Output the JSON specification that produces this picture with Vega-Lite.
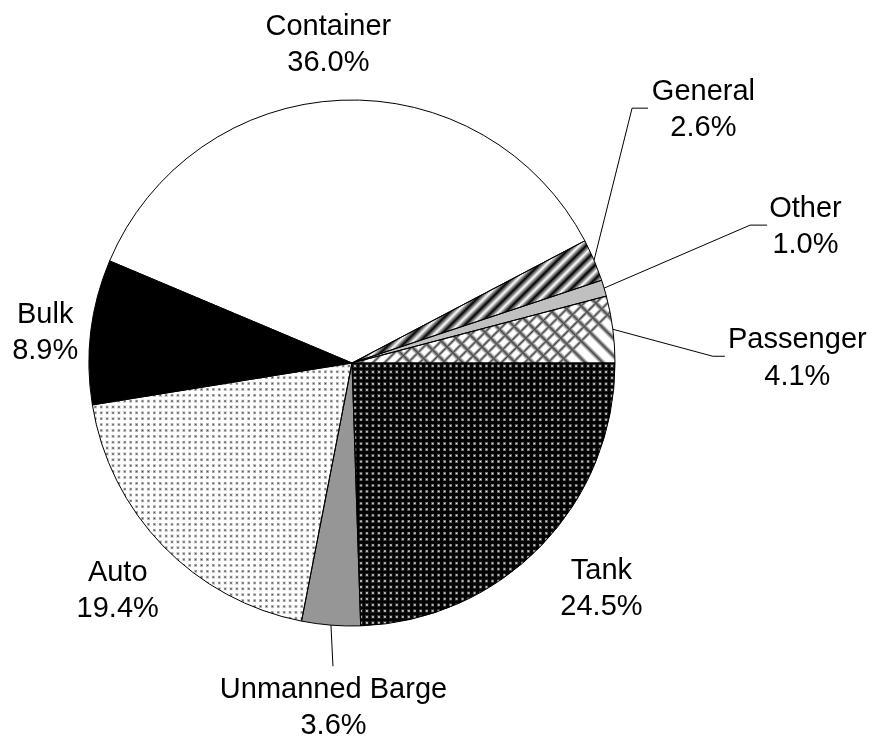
{
  "$schema": "https://vega.github.io/schema/vega-lite/v6.json",
  "width": 704,
  "height": 726,
  "autosize": {"type": "none"},
  "padding": {"left": 0, "top": 0, "right": 170, "bottom": 13},
  "background": "#ffffff",
  "config": {"view": {"stroke": null}, "text": {"font": "Liberation Sans", "fontSize": 29, "color": "#000000"}},
  "data": {"values": [
    {"type": "Auto", "share": 0.194},
    {"type": "Bulk", "share": 0.089},
    {"type": "Container", "share": 0.360},
    {"type": "General", "share": 0.026},
    {"type": "Other", "share": 0.010},
    {"type": "Passenger", "share": 0.041},
    {"type": "Tank", "share": 0.245},
    {"type": "Unmanned Barge", "share": 0.036}
  ]},
  "layer": [
    {
      "encoding": {
        "theta": {"field": "share", "type": "quantitative", "stack": true, "scale": {"range": [3.33463, 9.61782]}},
        "order": {"field": "type", "type": "ordinal", "sort": "ascending"},
        "detail": {"field": "type"}
      },
      "layer": [
        {
          "mark": {"type": "arc", "outerRadius": 263, "strokeWidth": 0},
          "encoding": {
            "fill": {
              "condition": [
                {"test": "datum.type==='Bulk'", "value": "#000000"},
                {"test": "datum.type==='Unmanned Barge'", "value": "#969696"},
                {"test": "datum.type==='Other'", "value": "#c0c0c0"},
                {"test": "datum.type==='Tank'", "value": {"gradient": "linear", "x1": 0, "y1": 0, "x2": 1, "y2": 0, "stops": [{"offset":0,"color":"#000"},{"offset":0.0045,"color":"#000"},{"offset":0.0114,"color":"#fff"},{"offset":0.0182,"color":"#000"},{"offset":0.0273,"color":"#000"},{"offset":0.0341,"color":"#fff"},{"offset":0.0409,"color":"#000"},{"offset":0.05,"color":"#000"},{"offset":0.0568,"color":"#fff"},{"offset":0.0636,"color":"#000"},{"offset":0.0727,"color":"#000"},{"offset":0.0795,"color":"#fff"},{"offset":0.0864,"color":"#000"},{"offset":0.0955,"color":"#000"},{"offset":0.1023,"color":"#fff"},{"offset":0.1091,"color":"#000"},{"offset":0.1182,"color":"#000"},{"offset":0.125,"color":"#fff"},{"offset":0.1318,"color":"#000"},{"offset":0.1409,"color":"#000"},{"offset":0.1477,"color":"#fff"},{"offset":0.1545,"color":"#000"},{"offset":0.1636,"color":"#000"},{"offset":0.1705,"color":"#fff"},{"offset":0.1773,"color":"#000"},{"offset":0.1864,"color":"#000"},{"offset":0.1932,"color":"#fff"},{"offset":0.2,"color":"#000"},{"offset":0.2091,"color":"#000"},{"offset":0.2159,"color":"#fff"},{"offset":0.2227,"color":"#000"},{"offset":0.2318,"color":"#000"},{"offset":0.2386,"color":"#fff"},{"offset":0.2455,"color":"#000"},{"offset":0.2545,"color":"#000"},{"offset":0.2614,"color":"#fff"},{"offset":0.2682,"color":"#000"},{"offset":0.2773,"color":"#000"},{"offset":0.2841,"color":"#fff"},{"offset":0.2909,"color":"#000"},{"offset":0.3,"color":"#000"},{"offset":0.3068,"color":"#fff"},{"offset":0.3136,"color":"#000"},{"offset":0.3227,"color":"#000"},{"offset":0.3295,"color":"#fff"},{"offset":0.3364,"color":"#000"},{"offset":0.3455,"color":"#000"},{"offset":0.3523,"color":"#fff"},{"offset":0.3591,"color":"#000"},{"offset":0.3682,"color":"#000"},{"offset":0.375,"color":"#fff"},{"offset":0.3818,"color":"#000"},{"offset":0.3909,"color":"#000"},{"offset":0.3977,"color":"#fff"},{"offset":0.4045,"color":"#000"},{"offset":0.4136,"color":"#000"},{"offset":0.4205,"color":"#fff"},{"offset":0.4273,"color":"#000"},{"offset":0.4364,"color":"#000"},{"offset":0.4432,"color":"#fff"},{"offset":0.45,"color":"#000"},{"offset":0.4591,"color":"#000"},{"offset":0.4659,"color":"#fff"},{"offset":0.4727,"color":"#000"},{"offset":0.4818,"color":"#000"},{"offset":0.4886,"color":"#fff"},{"offset":0.4955,"color":"#000"},{"offset":0.5045,"color":"#000"},{"offset":0.5114,"color":"#fff"},{"offset":0.5182,"color":"#000"},{"offset":0.5273,"color":"#000"},{"offset":0.5341,"color":"#fff"},{"offset":0.5409,"color":"#000"},{"offset":0.55,"color":"#000"},{"offset":0.5568,"color":"#fff"},{"offset":0.5636,"color":"#000"},{"offset":0.5727,"color":"#000"},{"offset":0.5795,"color":"#fff"},{"offset":0.5864,"color":"#000"},{"offset":0.5955,"color":"#000"},{"offset":0.6023,"color":"#fff"},{"offset":0.6091,"color":"#000"},{"offset":0.6182,"color":"#000"},{"offset":0.625,"color":"#fff"},{"offset":0.6318,"color":"#000"},{"offset":0.6409,"color":"#000"},{"offset":0.6477,"color":"#fff"},{"offset":0.6545,"color":"#000"},{"offset":0.6636,"color":"#000"},{"offset":0.6705,"color":"#fff"},{"offset":0.6773,"color":"#000"},{"offset":0.6864,"color":"#000"},{"offset":0.6932,"color":"#fff"},{"offset":0.7,"color":"#000"},{"offset":0.7091,"color":"#000"},{"offset":0.7159,"color":"#fff"},{"offset":0.7227,"color":"#000"},{"offset":0.7318,"color":"#000"},{"offset":0.7386,"color":"#fff"},{"offset":0.7455,"color":"#000"},{"offset":0.7545,"color":"#000"},{"offset":0.7614,"color":"#fff"},{"offset":0.7682,"color":"#000"},{"offset":0.7773,"color":"#000"},{"offset":0.7841,"color":"#fff"},{"offset":0.7909,"color":"#000"},{"offset":0.8,"color":"#000"},{"offset":0.8068,"color":"#fff"},{"offset":0.8136,"color":"#000"},{"offset":0.8227,"color":"#000"},{"offset":0.8295,"color":"#fff"},{"offset":0.8364,"color":"#000"},{"offset":0.8455,"color":"#000"},{"offset":0.8523,"color":"#fff"},{"offset":0.8591,"color":"#000"},{"offset":0.8682,"color":"#000"},{"offset":0.875,"color":"#fff"},{"offset":0.8818,"color":"#000"},{"offset":0.8909,"color":"#000"},{"offset":0.8977,"color":"#fff"},{"offset":0.9045,"color":"#000"},{"offset":0.9136,"color":"#000"},{"offset":0.9205,"color":"#fff"},{"offset":0.9273,"color":"#000"},{"offset":0.9364,"color":"#000"},{"offset":0.9432,"color":"#fff"},{"offset":0.95,"color":"#000"},{"offset":0.9591,"color":"#000"},{"offset":0.9659,"color":"#fff"},{"offset":0.9727,"color":"#000"},{"offset":0.9818,"color":"#000"},{"offset":0.9886,"color":"#fff"},{"offset":0.9955,"color":"#000"},{"offset":1,"color":"#000"}]}},
                {"test": "datum.type==='Auto'", "value": {"gradient": "linear", "x1": 0, "y1": 0, "x2": 1, "y2": 0, "stops": [{"offset":0,"color":"#fff"},{"offset":0.0045,"color":"#fff"},{"offset":0.0114,"color":"#444"},{"offset":0.0182,"color":"#fff"},{"offset":0.0273,"color":"#fff"},{"offset":0.0341,"color":"#444"},{"offset":0.0409,"color":"#fff"},{"offset":0.05,"color":"#fff"},{"offset":0.0568,"color":"#444"},{"offset":0.0636,"color":"#fff"},{"offset":0.0727,"color":"#fff"},{"offset":0.0795,"color":"#444"},{"offset":0.0864,"color":"#fff"},{"offset":0.0955,"color":"#fff"},{"offset":0.1023,"color":"#444"},{"offset":0.1091,"color":"#fff"},{"offset":0.1182,"color":"#fff"},{"offset":0.125,"color":"#444"},{"offset":0.1318,"color":"#fff"},{"offset":0.1409,"color":"#fff"},{"offset":0.1477,"color":"#444"},{"offset":0.1545,"color":"#fff"},{"offset":0.1636,"color":"#fff"},{"offset":0.1705,"color":"#444"},{"offset":0.1773,"color":"#fff"},{"offset":0.1864,"color":"#fff"},{"offset":0.1932,"color":"#444"},{"offset":0.2,"color":"#fff"},{"offset":0.2091,"color":"#fff"},{"offset":0.2159,"color":"#444"},{"offset":0.2227,"color":"#fff"},{"offset":0.2318,"color":"#fff"},{"offset":0.2386,"color":"#444"},{"offset":0.2455,"color":"#fff"},{"offset":0.2545,"color":"#fff"},{"offset":0.2614,"color":"#444"},{"offset":0.2682,"color":"#fff"},{"offset":0.2773,"color":"#fff"},{"offset":0.2841,"color":"#444"},{"offset":0.2909,"color":"#fff"},{"offset":0.3,"color":"#fff"},{"offset":0.3068,"color":"#444"},{"offset":0.3136,"color":"#fff"},{"offset":0.3227,"color":"#fff"},{"offset":0.3295,"color":"#444"},{"offset":0.3364,"color":"#fff"},{"offset":0.3455,"color":"#fff"},{"offset":0.3523,"color":"#444"},{"offset":0.3591,"color":"#fff"},{"offset":0.3682,"color":"#fff"},{"offset":0.375,"color":"#444"},{"offset":0.3818,"color":"#fff"},{"offset":0.3909,"color":"#fff"},{"offset":0.3977,"color":"#444"},{"offset":0.4045,"color":"#fff"},{"offset":0.4136,"color":"#fff"},{"offset":0.4205,"color":"#444"},{"offset":0.4273,"color":"#fff"},{"offset":0.4364,"color":"#fff"},{"offset":0.4432,"color":"#444"},{"offset":0.45,"color":"#fff"},{"offset":0.4591,"color":"#fff"},{"offset":0.4659,"color":"#444"},{"offset":0.4727,"color":"#fff"},{"offset":0.4818,"color":"#fff"},{"offset":0.4886,"color":"#444"},{"offset":0.4955,"color":"#fff"},{"offset":0.5045,"color":"#fff"},{"offset":0.5114,"color":"#444"},{"offset":0.5182,"color":"#fff"},{"offset":0.5273,"color":"#fff"},{"offset":0.5341,"color":"#444"},{"offset":0.5409,"color":"#fff"},{"offset":0.55,"color":"#fff"},{"offset":0.5568,"color":"#444"},{"offset":0.5636,"color":"#fff"},{"offset":0.5727,"color":"#fff"},{"offset":0.5795,"color":"#444"},{"offset":0.5864,"color":"#fff"},{"offset":0.5955,"color":"#fff"},{"offset":0.6023,"color":"#444"},{"offset":0.6091,"color":"#fff"},{"offset":0.6182,"color":"#fff"},{"offset":0.625,"color":"#444"},{"offset":0.6318,"color":"#fff"},{"offset":0.6409,"color":"#fff"},{"offset":0.6477,"color":"#444"},{"offset":0.6545,"color":"#fff"},{"offset":0.6636,"color":"#fff"},{"offset":0.6705,"color":"#444"},{"offset":0.6773,"color":"#fff"},{"offset":0.6864,"color":"#fff"},{"offset":0.6932,"color":"#444"},{"offset":0.7,"color":"#fff"},{"offset":0.7091,"color":"#fff"},{"offset":0.7159,"color":"#444"},{"offset":0.7227,"color":"#fff"},{"offset":0.7318,"color":"#fff"},{"offset":0.7386,"color":"#444"},{"offset":0.7455,"color":"#fff"},{"offset":0.7545,"color":"#fff"},{"offset":0.7614,"color":"#444"},{"offset":0.7682,"color":"#fff"},{"offset":0.7773,"color":"#fff"},{"offset":0.7841,"color":"#444"},{"offset":0.7909,"color":"#fff"},{"offset":0.8,"color":"#fff"},{"offset":0.8068,"color":"#444"},{"offset":0.8136,"color":"#fff"},{"offset":0.8227,"color":"#fff"},{"offset":0.8295,"color":"#444"},{"offset":0.8364,"color":"#fff"},{"offset":0.8455,"color":"#fff"},{"offset":0.8523,"color":"#444"},{"offset":0.8591,"color":"#fff"},{"offset":0.8682,"color":"#fff"},{"offset":0.875,"color":"#444"},{"offset":0.8818,"color":"#fff"},{"offset":0.8909,"color":"#fff"},{"offset":0.8977,"color":"#444"},{"offset":0.9045,"color":"#fff"},{"offset":0.9136,"color":"#fff"},{"offset":0.9205,"color":"#444"},{"offset":0.9273,"color":"#fff"},{"offset":0.9364,"color":"#fff"},{"offset":0.9432,"color":"#444"},{"offset":0.95,"color":"#fff"},{"offset":0.9591,"color":"#fff"},{"offset":0.9659,"color":"#444"},{"offset":0.9727,"color":"#fff"},{"offset":0.9818,"color":"#fff"},{"offset":0.9886,"color":"#444"},{"offset":0.9955,"color":"#fff"},{"offset":1,"color":"#fff"}]}},
                {"test": "datum.type==='General'", "value": {"gradient": "linear", "x1": 0, "y1": 0, "x2": 1, "y2": 0.4896, "stops": [{"offset":0,"color":"#000"},{"offset":0.0227,"color":"#fff"},{"offset":0.0455,"color":"#000"},{"offset":0.0682,"color":"#fff"},{"offset":0.0909,"color":"#000"},{"offset":0.1136,"color":"#fff"},{"offset":0.1364,"color":"#000"},{"offset":0.1591,"color":"#fff"},{"offset":0.1818,"color":"#000"},{"offset":0.2045,"color":"#fff"},{"offset":0.2273,"color":"#000"},{"offset":0.25,"color":"#fff"},{"offset":0.2727,"color":"#000"},{"offset":0.2955,"color":"#fff"},{"offset":0.3182,"color":"#000"},{"offset":0.3409,"color":"#fff"},{"offset":0.3636,"color":"#000"},{"offset":0.3864,"color":"#fff"},{"offset":0.4091,"color":"#000"},{"offset":0.4318,"color":"#fff"},{"offset":0.4545,"color":"#000"},{"offset":0.4773,"color":"#fff"},{"offset":0.5,"color":"#000"},{"offset":0.5227,"color":"#fff"},{"offset":0.5455,"color":"#000"},{"offset":0.5682,"color":"#fff"},{"offset":0.5909,"color":"#000"},{"offset":0.6136,"color":"#fff"},{"offset":0.6364,"color":"#000"},{"offset":0.6591,"color":"#fff"},{"offset":0.6818,"color":"#000"},{"offset":0.7045,"color":"#fff"},{"offset":0.7273,"color":"#000"},{"offset":0.75,"color":"#fff"},{"offset":0.7727,"color":"#000"},{"offset":0.7955,"color":"#fff"},{"offset":0.8182,"color":"#000"},{"offset":0.8409,"color":"#fff"},{"offset":0.8636,"color":"#000"},{"offset":0.8864,"color":"#fff"},{"offset":0.9091,"color":"#000"},{"offset":0.9318,"color":"#fff"},{"offset":0.9545,"color":"#000"},{"offset":0.9773,"color":"#fff"},{"offset":1,"color":"#000"}]}},
                {"test": "datum.type==='Passenger'", "value": {"gradient": "linear", "x1": 0, "y1": 0, "x2": 1, "y2": 0.2544, "stops": [{"offset":0,"color":"#fff"},{"offset":0.0104,"color":"#fff"},{"offset":0.0208,"color":"#444"},{"offset":0.0313,"color":"#fff"},{"offset":0.0521,"color":"#fff"},{"offset":0.0625,"color":"#444"},{"offset":0.0729,"color":"#fff"},{"offset":0.0938,"color":"#fff"},{"offset":0.1042,"color":"#444"},{"offset":0.1146,"color":"#fff"},{"offset":0.1354,"color":"#fff"},{"offset":0.1458,"color":"#444"},{"offset":0.1563,"color":"#fff"},{"offset":0.1771,"color":"#fff"},{"offset":0.1875,"color":"#444"},{"offset":0.1979,"color":"#fff"},{"offset":0.2188,"color":"#fff"},{"offset":0.2292,"color":"#444"},{"offset":0.2396,"color":"#fff"},{"offset":0.2604,"color":"#fff"},{"offset":0.2708,"color":"#444"},{"offset":0.2813,"color":"#fff"},{"offset":0.3021,"color":"#fff"},{"offset":0.3125,"color":"#444"},{"offset":0.3229,"color":"#fff"},{"offset":0.3438,"color":"#fff"},{"offset":0.3542,"color":"#444"},{"offset":0.3646,"color":"#fff"},{"offset":0.3854,"color":"#fff"},{"offset":0.3958,"color":"#444"},{"offset":0.4063,"color":"#fff"},{"offset":0.4271,"color":"#fff"},{"offset":0.4375,"color":"#444"},{"offset":0.4479,"color":"#fff"},{"offset":0.4688,"color":"#fff"},{"offset":0.4792,"color":"#444"},{"offset":0.4896,"color":"#fff"},{"offset":0.5104,"color":"#fff"},{"offset":0.5208,"color":"#444"},{"offset":0.5313,"color":"#fff"},{"offset":0.5521,"color":"#fff"},{"offset":0.5625,"color":"#444"},{"offset":0.5729,"color":"#fff"},{"offset":0.5938,"color":"#fff"},{"offset":0.6042,"color":"#444"},{"offset":0.6146,"color":"#fff"},{"offset":0.6354,"color":"#fff"},{"offset":0.6458,"color":"#444"},{"offset":0.6563,"color":"#fff"},{"offset":0.6771,"color":"#fff"},{"offset":0.6875,"color":"#444"},{"offset":0.6979,"color":"#fff"},{"offset":0.7188,"color":"#fff"},{"offset":0.7292,"color":"#444"},{"offset":0.7396,"color":"#fff"},{"offset":0.7604,"color":"#fff"},{"offset":0.7708,"color":"#444"},{"offset":0.7813,"color":"#fff"},{"offset":0.8021,"color":"#fff"},{"offset":0.8125,"color":"#444"},{"offset":0.8229,"color":"#fff"},{"offset":0.8438,"color":"#fff"},{"offset":0.8542,"color":"#444"},{"offset":0.8646,"color":"#fff"},{"offset":0.8854,"color":"#fff"},{"offset":0.8958,"color":"#444"},{"offset":0.9063,"color":"#fff"},{"offset":0.9271,"color":"#fff"},{"offset":0.9375,"color":"#444"},{"offset":0.9479,"color":"#fff"},{"offset":0.9688,"color":"#fff"},{"offset":0.9792,"color":"#444"},{"offset":0.9896,"color":"#fff"},{"offset":1,"color":"#fff"}]}}
              ],
              "value": "#ffffff"
            }
          }
        },
        {
          "mark": {"type": "arc", "outerRadius": 263, "strokeWidth": 0, "blend": "darken"},
          "encoding": {
            "fill": {
              "condition": [
                {"test": "datum.type==='Passenger'", "value": {"gradient": "linear", "x1": 0, "y1": 0.2544, "x2": 1, "y2": 0, "stops": [{"offset":0,"color":"#fff"},{"offset":0.0156,"color":"#fff"},{"offset":0.0313,"color":"#444"},{"offset":0.0469,"color":"#fff"},{"offset":0.0781,"color":"#fff"},{"offset":0.0938,"color":"#444"},{"offset":0.1094,"color":"#fff"},{"offset":0.1406,"color":"#fff"},{"offset":0.1563,"color":"#444"},{"offset":0.1719,"color":"#fff"},{"offset":0.2031,"color":"#fff"},{"offset":0.2188,"color":"#444"},{"offset":0.2344,"color":"#fff"},{"offset":0.2656,"color":"#fff"},{"offset":0.2813,"color":"#444"},{"offset":0.2969,"color":"#fff"},{"offset":0.3281,"color":"#fff"},{"offset":0.3438,"color":"#444"},{"offset":0.3594,"color":"#fff"},{"offset":0.3906,"color":"#fff"},{"offset":0.4063,"color":"#444"},{"offset":0.4219,"color":"#fff"},{"offset":0.4531,"color":"#fff"},{"offset":0.4688,"color":"#444"},{"offset":0.4844,"color":"#fff"},{"offset":0.5156,"color":"#fff"},{"offset":0.5313,"color":"#444"},{"offset":0.5469,"color":"#fff"},{"offset":0.5781,"color":"#fff"},{"offset":0.5938,"color":"#444"},{"offset":0.6094,"color":"#fff"},{"offset":0.6406,"color":"#fff"},{"offset":0.6563,"color":"#444"},{"offset":0.6719,"color":"#fff"},{"offset":0.7031,"color":"#fff"},{"offset":0.7188,"color":"#444"},{"offset":0.7344,"color":"#fff"},{"offset":0.7656,"color":"#fff"},{"offset":0.7813,"color":"#444"},{"offset":0.7969,"color":"#fff"},{"offset":0.8281,"color":"#fff"},{"offset":0.8438,"color":"#444"},{"offset":0.8594,"color":"#fff"},{"offset":0.8906,"color":"#fff"},{"offset":0.9063,"color":"#444"},{"offset":0.9219,"color":"#fff"},{"offset":0.9531,"color":"#fff"},{"offset":0.9688,"color":"#444"},{"offset":0.9844,"color":"#fff"},{"offset":1,"color":"#fff"}]}},
                {"test": "datum.type==='Tank'", "value": {"gradient": "linear", "x1": 0, "y1": 0, "x2": 0, "y2": 1, "stops": [{"offset":0,"color":"#000"},{"offset":0.0045,"color":"#000"},{"offset":0.0114,"color":"#fff"},{"offset":0.0182,"color":"#000"},{"offset":0.0273,"color":"#000"},{"offset":0.0341,"color":"#fff"},{"offset":0.0409,"color":"#000"},{"offset":0.05,"color":"#000"},{"offset":0.0568,"color":"#fff"},{"offset":0.0636,"color":"#000"},{"offset":0.0727,"color":"#000"},{"offset":0.0795,"color":"#fff"},{"offset":0.0864,"color":"#000"},{"offset":0.0955,"color":"#000"},{"offset":0.1023,"color":"#fff"},{"offset":0.1091,"color":"#000"},{"offset":0.1182,"color":"#000"},{"offset":0.125,"color":"#fff"},{"offset":0.1318,"color":"#000"},{"offset":0.1409,"color":"#000"},{"offset":0.1477,"color":"#fff"},{"offset":0.1545,"color":"#000"},{"offset":0.1636,"color":"#000"},{"offset":0.1705,"color":"#fff"},{"offset":0.1773,"color":"#000"},{"offset":0.1864,"color":"#000"},{"offset":0.1932,"color":"#fff"},{"offset":0.2,"color":"#000"},{"offset":0.2091,"color":"#000"},{"offset":0.2159,"color":"#fff"},{"offset":0.2227,"color":"#000"},{"offset":0.2318,"color":"#000"},{"offset":0.2386,"color":"#fff"},{"offset":0.2455,"color":"#000"},{"offset":0.2545,"color":"#000"},{"offset":0.2614,"color":"#fff"},{"offset":0.2682,"color":"#000"},{"offset":0.2773,"color":"#000"},{"offset":0.2841,"color":"#fff"},{"offset":0.2909,"color":"#000"},{"offset":0.3,"color":"#000"},{"offset":0.3068,"color":"#fff"},{"offset":0.3136,"color":"#000"},{"offset":0.3227,"color":"#000"},{"offset":0.3295,"color":"#fff"},{"offset":0.3364,"color":"#000"},{"offset":0.3455,"color":"#000"},{"offset":0.3523,"color":"#fff"},{"offset":0.3591,"color":"#000"},{"offset":0.3682,"color":"#000"},{"offset":0.375,"color":"#fff"},{"offset":0.3818,"color":"#000"},{"offset":0.3909,"color":"#000"},{"offset":0.3977,"color":"#fff"},{"offset":0.4045,"color":"#000"},{"offset":0.4136,"color":"#000"},{"offset":0.4205,"color":"#fff"},{"offset":0.4273,"color":"#000"},{"offset":0.4364,"color":"#000"},{"offset":0.4432,"color":"#fff"},{"offset":0.45,"color":"#000"},{"offset":0.4591,"color":"#000"},{"offset":0.4659,"color":"#fff"},{"offset":0.4727,"color":"#000"},{"offset":0.4818,"color":"#000"},{"offset":0.4886,"color":"#fff"},{"offset":0.4955,"color":"#000"},{"offset":0.5045,"color":"#000"},{"offset":0.5114,"color":"#fff"},{"offset":0.5182,"color":"#000"},{"offset":0.5273,"color":"#000"},{"offset":0.5341,"color":"#fff"},{"offset":0.5409,"color":"#000"},{"offset":0.55,"color":"#000"},{"offset":0.5568,"color":"#fff"},{"offset":0.5636,"color":"#000"},{"offset":0.5727,"color":"#000"},{"offset":0.5795,"color":"#fff"},{"offset":0.5864,"color":"#000"},{"offset":0.5955,"color":"#000"},{"offset":0.6023,"color":"#fff"},{"offset":0.6091,"color":"#000"},{"offset":0.6182,"color":"#000"},{"offset":0.625,"color":"#fff"},{"offset":0.6318,"color":"#000"},{"offset":0.6409,"color":"#000"},{"offset":0.6477,"color":"#fff"},{"offset":0.6545,"color":"#000"},{"offset":0.6636,"color":"#000"},{"offset":0.6705,"color":"#fff"},{"offset":0.6773,"color":"#000"},{"offset":0.6864,"color":"#000"},{"offset":0.6932,"color":"#fff"},{"offset":0.7,"color":"#000"},{"offset":0.7091,"color":"#000"},{"offset":0.7159,"color":"#fff"},{"offset":0.7227,"color":"#000"},{"offset":0.7318,"color":"#000"},{"offset":0.7386,"color":"#fff"},{"offset":0.7455,"color":"#000"},{"offset":0.7545,"color":"#000"},{"offset":0.7614,"color":"#fff"},{"offset":0.7682,"color":"#000"},{"offset":0.7773,"color":"#000"},{"offset":0.7841,"color":"#fff"},{"offset":0.7909,"color":"#000"},{"offset":0.8,"color":"#000"},{"offset":0.8068,"color":"#fff"},{"offset":0.8136,"color":"#000"},{"offset":0.8227,"color":"#000"},{"offset":0.8295,"color":"#fff"},{"offset":0.8364,"color":"#000"},{"offset":0.8455,"color":"#000"},{"offset":0.8523,"color":"#fff"},{"offset":0.8591,"color":"#000"},{"offset":0.8682,"color":"#000"},{"offset":0.875,"color":"#fff"},{"offset":0.8818,"color":"#000"},{"offset":0.8909,"color":"#000"},{"offset":0.8977,"color":"#fff"},{"offset":0.9045,"color":"#000"},{"offset":0.9136,"color":"#000"},{"offset":0.9205,"color":"#fff"},{"offset":0.9273,"color":"#000"},{"offset":0.9364,"color":"#000"},{"offset":0.9432,"color":"#fff"},{"offset":0.95,"color":"#000"},{"offset":0.9591,"color":"#000"},{"offset":0.9659,"color":"#fff"},{"offset":0.9727,"color":"#000"},{"offset":0.9818,"color":"#000"},{"offset":0.9886,"color":"#fff"},{"offset":0.9955,"color":"#000"},{"offset":1,"color":"#000"}]}}
              ],
              "value": "transparent"
            }
          }
        },
        {
          "mark": {"type": "arc", "outerRadius": 263, "strokeWidth": 0, "blend": "lighten"},
          "encoding": {
            "fill": {
              "condition": [
                {"test": "datum.type==='Auto'", "value": {"gradient": "linear", "x1": 0, "y1": 0, "x2": 0, "y2": 1, "stops": [{"offset":0,"color":"#fff"},{"offset":0.0045,"color":"#fff"},{"offset":0.0114,"color":"#444"},{"offset":0.0182,"color":"#fff"},{"offset":0.0273,"color":"#fff"},{"offset":0.0341,"color":"#444"},{"offset":0.0409,"color":"#fff"},{"offset":0.05,"color":"#fff"},{"offset":0.0568,"color":"#444"},{"offset":0.0636,"color":"#fff"},{"offset":0.0727,"color":"#fff"},{"offset":0.0795,"color":"#444"},{"offset":0.0864,"color":"#fff"},{"offset":0.0955,"color":"#fff"},{"offset":0.1023,"color":"#444"},{"offset":0.1091,"color":"#fff"},{"offset":0.1182,"color":"#fff"},{"offset":0.125,"color":"#444"},{"offset":0.1318,"color":"#fff"},{"offset":0.1409,"color":"#fff"},{"offset":0.1477,"color":"#444"},{"offset":0.1545,"color":"#fff"},{"offset":0.1636,"color":"#fff"},{"offset":0.1705,"color":"#444"},{"offset":0.1773,"color":"#fff"},{"offset":0.1864,"color":"#fff"},{"offset":0.1932,"color":"#444"},{"offset":0.2,"color":"#fff"},{"offset":0.2091,"color":"#fff"},{"offset":0.2159,"color":"#444"},{"offset":0.2227,"color":"#fff"},{"offset":0.2318,"color":"#fff"},{"offset":0.2386,"color":"#444"},{"offset":0.2455,"color":"#fff"},{"offset":0.2545,"color":"#fff"},{"offset":0.2614,"color":"#444"},{"offset":0.2682,"color":"#fff"},{"offset":0.2773,"color":"#fff"},{"offset":0.2841,"color":"#444"},{"offset":0.2909,"color":"#fff"},{"offset":0.3,"color":"#fff"},{"offset":0.3068,"color":"#444"},{"offset":0.3136,"color":"#fff"},{"offset":0.3227,"color":"#fff"},{"offset":0.3295,"color":"#444"},{"offset":0.3364,"color":"#fff"},{"offset":0.3455,"color":"#fff"},{"offset":0.3523,"color":"#444"},{"offset":0.3591,"color":"#fff"},{"offset":0.3682,"color":"#fff"},{"offset":0.375,"color":"#444"},{"offset":0.3818,"color":"#fff"},{"offset":0.3909,"color":"#fff"},{"offset":0.3977,"color":"#444"},{"offset":0.4045,"color":"#fff"},{"offset":0.4136,"color":"#fff"},{"offset":0.4205,"color":"#444"},{"offset":0.4273,"color":"#fff"},{"offset":0.4364,"color":"#fff"},{"offset":0.4432,"color":"#444"},{"offset":0.45,"color":"#fff"},{"offset":0.4591,"color":"#fff"},{"offset":0.4659,"color":"#444"},{"offset":0.4727,"color":"#fff"},{"offset":0.4818,"color":"#fff"},{"offset":0.4886,"color":"#444"},{"offset":0.4955,"color":"#fff"},{"offset":0.5045,"color":"#fff"},{"offset":0.5114,"color":"#444"},{"offset":0.5182,"color":"#fff"},{"offset":0.5273,"color":"#fff"},{"offset":0.5341,"color":"#444"},{"offset":0.5409,"color":"#fff"},{"offset":0.55,"color":"#fff"},{"offset":0.5568,"color":"#444"},{"offset":0.5636,"color":"#fff"},{"offset":0.5727,"color":"#fff"},{"offset":0.5795,"color":"#444"},{"offset":0.5864,"color":"#fff"},{"offset":0.5955,"color":"#fff"},{"offset":0.6023,"color":"#444"},{"offset":0.6091,"color":"#fff"},{"offset":0.6182,"color":"#fff"},{"offset":0.625,"color":"#444"},{"offset":0.6318,"color":"#fff"},{"offset":0.6409,"color":"#fff"},{"offset":0.6477,"color":"#444"},{"offset":0.6545,"color":"#fff"},{"offset":0.6636,"color":"#fff"},{"offset":0.6705,"color":"#444"},{"offset":0.6773,"color":"#fff"},{"offset":0.6864,"color":"#fff"},{"offset":0.6932,"color":"#444"},{"offset":0.7,"color":"#fff"},{"offset":0.7091,"color":"#fff"},{"offset":0.7159,"color":"#444"},{"offset":0.7227,"color":"#fff"},{"offset":0.7318,"color":"#fff"},{"offset":0.7386,"color":"#444"},{"offset":0.7455,"color":"#fff"},{"offset":0.7545,"color":"#fff"},{"offset":0.7614,"color":"#444"},{"offset":0.7682,"color":"#fff"},{"offset":0.7773,"color":"#fff"},{"offset":0.7841,"color":"#444"},{"offset":0.7909,"color":"#fff"},{"offset":0.8,"color":"#fff"},{"offset":0.8068,"color":"#444"},{"offset":0.8136,"color":"#fff"},{"offset":0.8227,"color":"#fff"},{"offset":0.8295,"color":"#444"},{"offset":0.8364,"color":"#fff"},{"offset":0.8455,"color":"#fff"},{"offset":0.8523,"color":"#444"},{"offset":0.8591,"color":"#fff"},{"offset":0.8682,"color":"#fff"},{"offset":0.875,"color":"#444"},{"offset":0.8818,"color":"#fff"},{"offset":0.8909,"color":"#fff"},{"offset":0.8977,"color":"#444"},{"offset":0.9045,"color":"#fff"},{"offset":0.9136,"color":"#fff"},{"offset":0.9205,"color":"#444"},{"offset":0.9273,"color":"#fff"},{"offset":0.9364,"color":"#fff"},{"offset":0.9432,"color":"#444"},{"offset":0.95,"color":"#fff"},{"offset":0.9591,"color":"#fff"},{"offset":0.9659,"color":"#444"},{"offset":0.9727,"color":"#fff"},{"offset":0.9818,"color":"#fff"},{"offset":0.9886,"color":"#444"},{"offset":0.9955,"color":"#fff"},{"offset":1,"color":"#fff"}]}}
              ],
              "value": "transparent"
            }
          }
        },
        {"mark": {"type": "arc", "outerRadius": 263, "fill": "transparent", "stroke": "#000000", "strokeWidth": 1}},
        {"mark": {"type": "text", "radius": 321, "dx": -10, "dy": -16}, "encoding": {"text": {"condition": {"test": "datum.type==='Container'", "field": "type", "type": "nominal"}, "value": ""}}},
        {"mark": {"type": "text", "radius": 321, "dx": -10, "dy": 20}, "encoding": {"text": {"condition": {"test": "datum.type==='Container'", "field": "share", "type": "quantitative", "format": ".1%"}, "value": ""}}},
        {"mark": {"type": "text", "radius": 308, "dx": -1, "dy": -12}, "encoding": {"text": {"condition": {"test": "datum.type==='Bulk'", "field": "type", "type": "nominal"}, "value": ""}}},
        {"mark": {"type": "text", "radius": 308, "dx": -1, "dy": 24}, "encoding": {"text": {"condition": {"test": "datum.type==='Bulk'", "field": "share", "type": "quantitative", "format": ".1%"}, "value": ""}}},
        {"mark": {"type": "text", "radius": 326, "dx": 0, "dy": -18}, "encoding": {"text": {"condition": {"test": "datum.type==='Auto'", "field": "type", "type": "nominal"}, "value": ""}}},
        {"mark": {"type": "text", "radius": 326, "dx": 0, "dy": 18}, "encoding": {"text": {"condition": {"test": "datum.type==='Auto'", "field": "share", "type": "quantitative", "format": ".1%"}, "value": ""}}},
        {"mark": {"type": "text", "radius": 336, "dx": 8, "dy": -27}, "encoding": {"text": {"condition": {"test": "datum.type==='Tank'", "field": "type", "type": "nominal"}, "value": ""}}},
        {"mark": {"type": "text", "radius": 336, "dx": 8, "dy": 9}, "encoding": {"text": {"condition": {"test": "datum.type==='Tank'", "field": "share", "type": "quantitative", "format": ".1%"}, "value": ""}}},
        {"mark": {"type": "text", "radius": 344, "dx": 9, "dy": -17}, "encoding": {"text": {"condition": {"test": "datum.type==='Unmanned Barge'", "field": "type", "type": "nominal"}, "value": ""}}},
        {"mark": {"type": "text", "radius": 344, "dx": 9, "dy": 19}, "encoding": {"text": {"condition": {"test": "datum.type==='Unmanned Barge'", "field": "share", "type": "quantitative", "format": ".1%"}, "value": ""}}},
        {"mark": {"type": "text", "radius": 422, "dx": -37, "dy": -107}, "encoding": {"text": {"condition": {"test": "datum.type==='General'", "field": "type", "type": "nominal"}, "value": ""}}},
        {"mark": {"type": "text", "radius": 422, "dx": -37, "dy": -71}, "encoding": {"text": {"condition": {"test": "datum.type==='General'", "field": "share", "type": "quantitative", "format": ".1%"}, "value": ""}}},
        {"mark": {"type": "text", "radius": 473, "dx": 0, "dy": -20}, "encoding": {"text": {"condition": {"test": "datum.type==='Other'", "field": "type", "type": "nominal"}, "value": ""}}},
        {"mark": {"type": "text", "radius": 473, "dx": 0, "dy": 16}, "encoding": {"text": {"condition": {"test": "datum.type==='Other'", "field": "share", "type": "quantitative", "format": ".1%"}, "value": ""}}},
        {"mark": {"type": "text", "radius": 442, "dx": 7, "dy": 33}, "encoding": {"text": {"condition": {"test": "datum.type==='Passenger'", "field": "type", "type": "nominal"}, "value": ""}}},
        {"mark": {"type": "text", "radius": 442, "dx": 7, "dy": 70}, "encoding": {"text": {"condition": {"test": "datum.type==='Passenger'", "field": "share", "type": "quantitative", "format": ".1%"}, "value": ""}}}
      ]
    },
    {
      "transform": [
        {"stack": "share", "groupby": [], "sort": [{"field": "type", "order": "ascending"}], "as": ["s0", "s1"]},
        {"joinaggregate": [{"op": "sum", "field": "share", "as": "tot"}]},
        {"calculate": "3.33463 + PI*(datum.s0+datum.s1)/datum.tot", "as": "ang"},
        {"calculate": "sin(datum.ang)", "as": "px"},
        {"calculate": "cos(datum.ang)", "as": "py"}
      ],
      "encoding": {
        "x": {"field": "px", "type": "quantitative", "scale": {"domain": [-1.3384, 1.3384], "nice": false, "zero": false}, "axis": null},
        "y": {"field": "py", "type": "quantitative", "scale": {"domain": [-1.38023, 1.38023], "nice": false, "zero": false}, "axis": null}
      },
      "layer": [
        {"transform": [{"filter": "datum.type==='General'"}], "mark": {"type": "rule", "color": "#000000", "strokeWidth": 1, "x2Offset": 38, "y2Offset": -152}, "encoding": {"x2": {"field": "px"}, "y2": {"field": "py"}}},
        {"transform": [{"filter": "datum.type==='General'"}], "mark": {"type": "rule", "color": "#000000", "strokeWidth": 1, "xOffset": 38, "yOffset": -152, "x2Offset": 54}, "encoding": {"x2": {"field": "px"}}},
        {"transform": [{"filter": "datum.type==='Other'"}], "mark": {"type": "rule", "color": "#000000", "strokeWidth": 1, "x2Offset": 146, "y2Offset": -63}, "encoding": {"x2": {"field": "px"}, "y2": {"field": "py"}}},
        {"transform": [{"filter": "datum.type==='Other'"}], "mark": {"type": "rule", "color": "#000000", "strokeWidth": 1, "xOffset": 146, "yOffset": -63, "x2Offset": 163}, "encoding": {"x2": {"field": "px"}}},
        {"transform": [{"filter": "datum.type==='Passenger'"}], "mark": {"type": "rule", "color": "#000000", "strokeWidth": 1, "x2Offset": 100, "y2Offset": 27}, "encoding": {"x2": {"field": "px"}, "y2": {"field": "py"}}},
        {"transform": [{"filter": "datum.type==='Passenger'"}], "mark": {"type": "rule", "color": "#000000", "strokeWidth": 1, "xOffset": 100, "yOffset": 27, "x2Offset": 112}, "encoding": {"x2": {"field": "px"}}},
        {"transform": [{"filter": "datum.type==='Unmanned Barge'"}], "mark": {"type": "rule", "color": "#000000", "strokeWidth": 1, "x2Offset": 2, "y2Offset": 41}, "encoding": {"x2": {"field": "px"}, "y2": {"field": "py"}}}
      ]
    }
  ]
}
